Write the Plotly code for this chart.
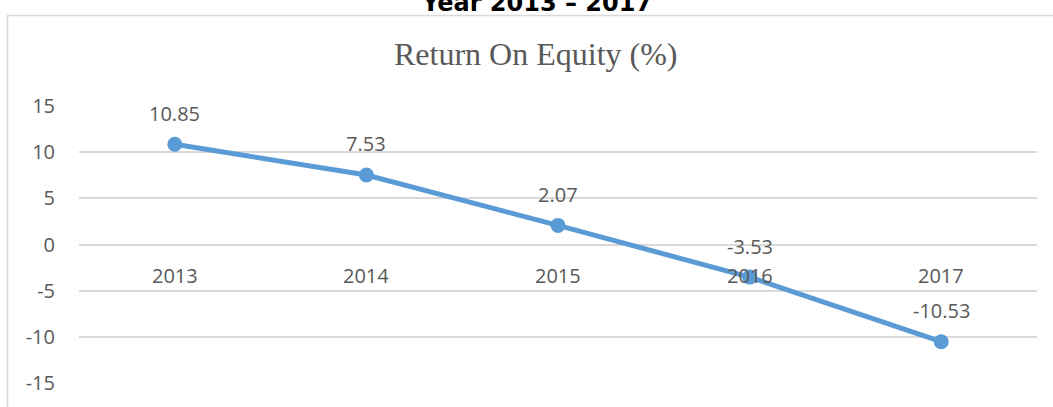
import plotly.graph_objects as go

years = ["2013", "2014", "2015", "2016", "2017"]
roe = [10.85, 7.53, 2.07, -3.53, -10.53]
roe_labels = ["10.85", "7.53", "2.07", "-3.53", "-10.53"]
y_ticks = [-15, -10, -5, 0, 5, 10, 15]

W, H = 1053, 407
ML, MR, MT, MB = 79, 16, 106, 24
PW = W - ML - MR
PH = H - MT - MB

def px_x(p):
    return (p - ML) / PW

def px_y(p):
    return (H - MB - p) / PH

label_font = dict(family="Open Sans, Noto Sans, sans-serif", size=20, color="#595959")

fig = go.Figure()
fig.add_trace(go.Scatter(
    x=years, y=roe, mode="lines+markers",
    line=dict(color="#5b9bd5", width=5),
    marker=dict(color="#5b9bd5", size=15),
    hoverinfo="skip", showlegend=False,
))

annotations = []
for i, (yr, v, t) in enumerate(zip(years, roe, roe_labels)):
    annotations.append(dict(x=i, y=v, xref="x", yref="y", text=t, showarrow=False,
                            yshift=31, font=label_font, xanchor="center", yanchor="middle"))
    annotations.append(dict(x=i, y=0, xref="x", yref="y", text=yr, showarrow=False,
                            yshift=-31, font=label_font, xanchor="center", yanchor="middle"))

annotations.append(dict(x=px_x(536), y=px_y(54), xref="paper", yref="paper",
                        text="Return On Equity (%)", showarrow=False,
                        font=dict(family="Liberation Serif, Times New Roman, serif", size=32, color="#595959"),
                        xanchor="center", yanchor="middle"))
annotations.append(dict(x=px_x(536.5), y=px_y(3), xref="paper", yref="paper",
                        text="<b>Year 2013 – 2017</b>", showarrow=False,
                        font=dict(family="DejaVu Sans, Verdana, sans-serif", size=24, color="#000000"),
                        xanchor="center", yanchor="middle"))

fig.update_layout(
    width=W, height=H,
    margin=dict(l=ML, r=MR, t=MT, b=MB, pad=0),
    paper_bgcolor="white", plot_bgcolor="white",
    annotations=annotations,
    shapes=[dict(type="rect", xref="paper", yref="paper",
                 x0=px_x(7.5), x1=px_x(1070), y0=px_y(430), y1=px_y(15.5),
                 line=dict(color="#d9d9d9", width=1.5), fillcolor="rgba(0,0,0,0)", layer="below")],
    xaxis=dict(type="category", categoryorder="array", categoryarray=years,
               range=[-0.5, 4.5], showgrid=False, zeroline=False, showline=False,
               showticklabels=False, ticks="", fixedrange=True),
    yaxis=dict(range=[-15, 15], tickvals=y_ticks, ticktext=[str(v) for v in y_ticks],
               showgrid=True, gridcolor="#d9d9d9", gridwidth=1.5, zeroline=False,
               showline=False, ticks="", tickfont=label_font, ticklabelstandoff=23,
               fixedrange=True),
)

fig.write_html("out.html", config={"displayModeBar": False},
               post_script="document.body.style.margin='0';document.body.style.overflow='hidden';")
